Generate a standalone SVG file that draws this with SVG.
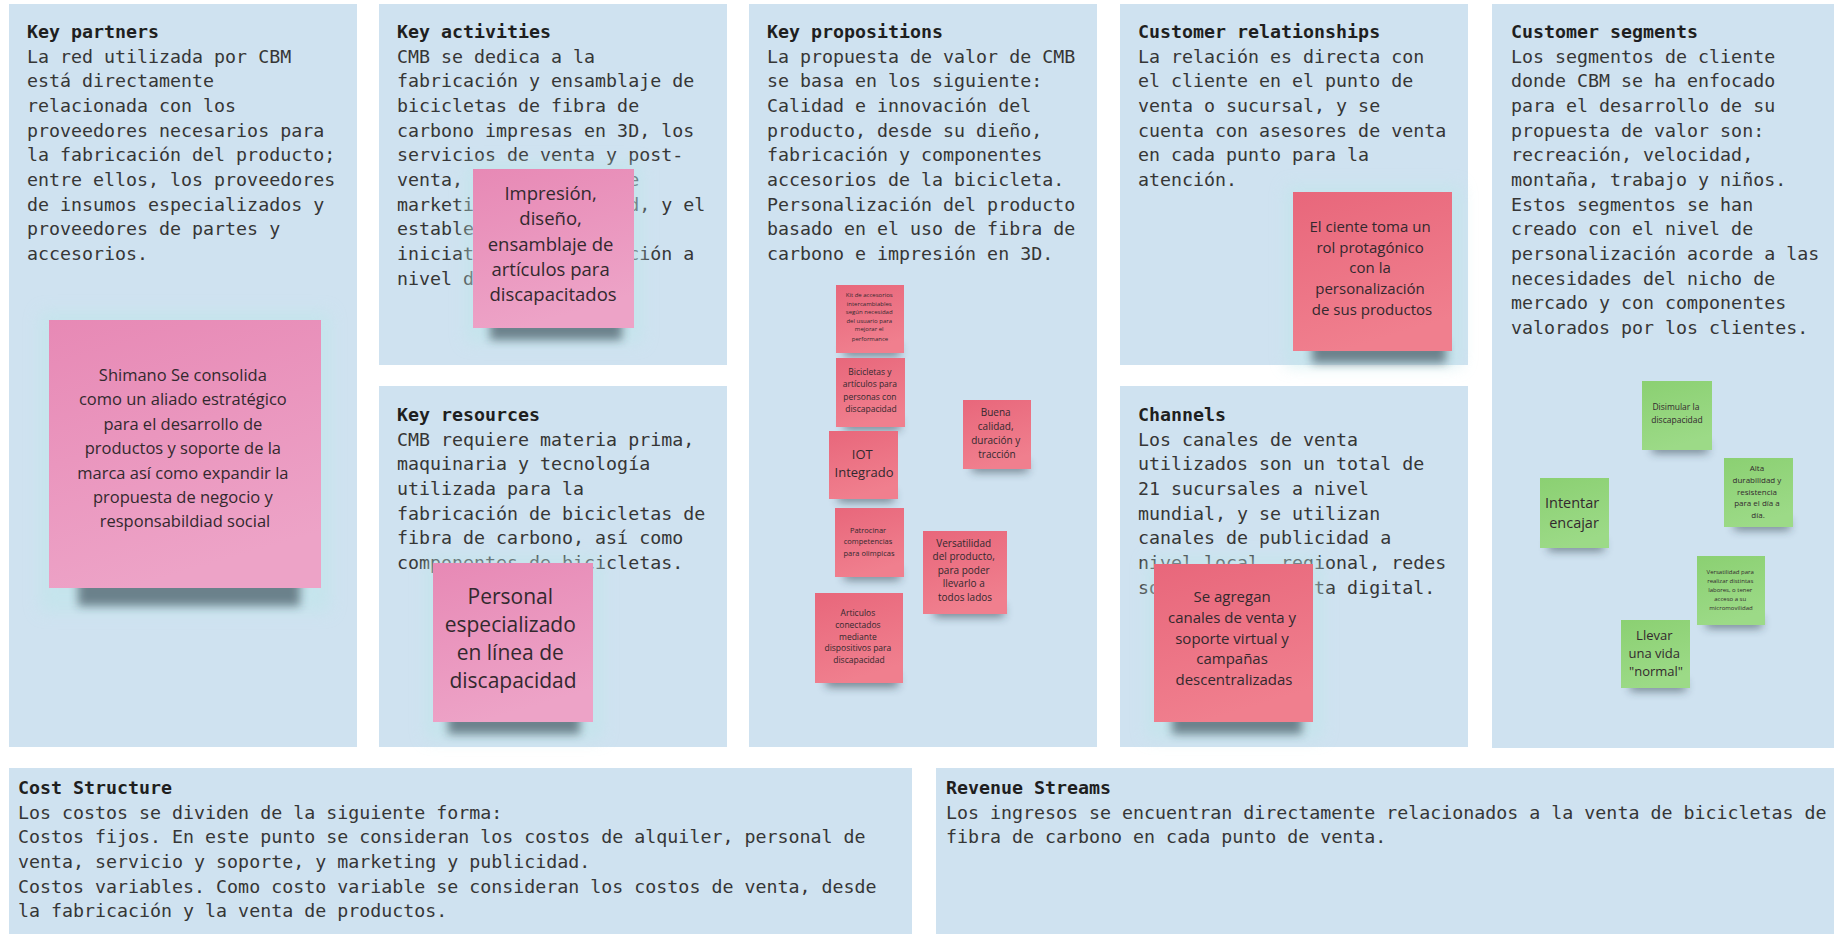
<svg xmlns="http://www.w3.org/2000/svg" width="1834" height="934" viewBox="0 0 1834 934">
  <style>
    .panel { fill: #cfe2f0; }
    .title { font-family: "DejaVu Sans Mono", "Liberation Mono", monospace; font-size: 18.3px; font-weight: bold; fill: #1f1f1f; }
    .body { font-family: "DejaVu Sans Mono", "Liberation Mono", monospace; font-size: 18.3px; fill: #363636; }
    .note { font-family: "Open Sans", "Noto Sans", sans-serif; fill: #33292e; text-anchor: middle; }
    .pink { fill: url(#gPink); }
    .red { fill: url(#gRed); }
    .green { fill: url(#gGreen); }
    .shadow { fill: #22313e; opacity: 0.55; filter: url(#fShadow); }
    .halo { fill: #bfe6ea; opacity: 0.6; filter: url(#fHalo); }
  </style>
  <defs>
    <linearGradient id="gPink" x1="0" y1="0" x2="0.3" y2="1">
      <stop offset="0" stop-color="#e789b5"/>
      <stop offset="1" stop-color="#eda3c7"/>
    </linearGradient>
    <linearGradient id="gRed" x1="0" y1="0" x2="0.3" y2="1">
      <stop offset="0" stop-color="#e8677b"/>
      <stop offset="1" stop-color="#f07f8e"/>
    </linearGradient>
    <linearGradient id="gGreen" x1="0" y1="0" x2="0.3" y2="1">
      <stop offset="0" stop-color="#8bd072"/>
      <stop offset="1" stop-color="#9cda87"/>
    </linearGradient>
    <filter id="fShadow" x="-30%" y="-100%" width="160%" height="300%">
      <feGaussianBlur stdDeviation="5"/>
    </filter>
    <filter id="fHalo" x="-30%" y="-30%" width="160%" height="160%">
      <feGaussianBlur stdDeviation="8"/>
    </filter>
  </defs>

  <rect width="1834" height="934" fill="#ffffff"/>

  <!-- canvas blocks -->
  <g id="key-partners">
    <rect class="panel" x="9" y="4" width="348" height="743"/>
    <text class="title" x="27" y="38">Key partners</text>
    <text class="body">
      <tspan x="27" y="62.7">La red utilizada por CBM</tspan>
      <tspan x="27" y="87.3">está directamente</tspan>
      <tspan x="27" y="112">relacionada con los</tspan>
      <tspan x="27" y="136.7">proveedores necesarios para</tspan>
      <tspan x="27" y="161.3">la fabricación del producto;</tspan>
      <tspan x="27" y="186">entre ellos, los proveedores</tspan>
      <tspan x="27" y="210.7">de insumos especializados y</tspan>
      <tspan x="27" y="235.3">proveedores de partes y</tspan>
      <tspan x="27" y="260">accesorios.</tspan>
    </text>
  </g>

  <g id="key-activities">
    <rect class="panel" x="379" y="4" width="348" height="361"/>
    <text class="title" x="397" y="38">Key activities</text>
    <text class="body">
      <tspan x="397" y="62.7">CMB se dedica a la</tspan>
      <tspan x="397" y="87.3">fabricación y ensamblaje de</tspan>
      <tspan x="397" y="112">bicicletas de fibra de</tspan>
      <tspan x="397" y="136.7">carbono impresas en 3D, los</tspan>
      <tspan x="397" y="161.3">servicios de venta y post-</tspan>
      <tspan x="397" y="186">venta, las campañas de</tspan>
      <tspan x="397" y="210.7">marketing y publicidad, y el</tspan>
      <tspan x="397" y="235.3">establecimiento de</tspan>
      <tspan x="397" y="260">iniciativas de innovación a</tspan>
      <tspan x="397" y="284.7">nivel de producción.</tspan>
    </text>
  </g>

  <g id="key-resources">
    <rect class="panel" x="379" y="386" width="348" height="361"/>
    <text class="title" x="397" y="421">Key resources</text>
    <text class="body">
      <tspan x="397" y="445.7">CMB requiere materia prima,</tspan>
      <tspan x="397" y="470.3">maquinaria y tecnología</tspan>
      <tspan x="397" y="495">utilizada para la</tspan>
      <tspan x="397" y="519.7">fabricación de bicicletas de</tspan>
      <tspan x="397" y="544.3">fibra de carbono, así como</tspan>
      <tspan x="397" y="569">componentes de bicicletas.</tspan>
    </text>
  </g>

  <g id="key-propositions">
    <rect class="panel" x="749" y="4" width="348" height="743"/>
    <text class="title" x="767" y="38">Key propositions</text>
    <text class="body">
      <tspan x="767" y="62.7">La propuesta de valor de CMB</tspan>
      <tspan x="767" y="87.3">se basa en los siguiente:</tspan>
      <tspan x="767" y="112">Calidad e innovación del</tspan>
      <tspan x="767" y="136.7">producto, desde su dieño,</tspan>
      <tspan x="767" y="161.3">fabricación y componentes</tspan>
      <tspan x="767" y="186">accesorios de la bicicleta.</tspan>
      <tspan x="767" y="210.7">Personalización del producto</tspan>
      <tspan x="767" y="235.3">basado en el uso de fibra de</tspan>
      <tspan x="767" y="260">carbono e impresión en 3D.</tspan>
    </text>
  </g>

  <g id="customer-relationships">
    <rect class="panel" x="1120" y="4" width="348" height="361"/>
    <text class="title" x="1138" y="38">Customer relationships</text>
    <text class="body">
      <tspan x="1138" y="62.7">La relación es directa con</tspan>
      <tspan x="1138" y="87.3">el cliente en el punto de</tspan>
      <tspan x="1138" y="112">venta o sucursal, y se</tspan>
      <tspan x="1138" y="136.7">cuenta con asesores de venta</tspan>
      <tspan x="1138" y="161.3">en cada punto para la</tspan>
      <tspan x="1138" y="186">atención.</tspan>
    </text>
  </g>

  <g id="channels">
    <rect class="panel" x="1120" y="386" width="348" height="361"/>
    <text class="title" x="1138" y="421">Channels</text>
    <text class="body">
      <tspan x="1138" y="445.7">Los canales de venta</tspan>
      <tspan x="1138" y="470.3">utilizados son un total de</tspan>
      <tspan x="1138" y="495">21 sucursales a nivel</tspan>
      <tspan x="1138" y="519.7">mundial, y se utilizan</tspan>
      <tspan x="1138" y="544.3">canales de publicidad a</tspan>
      <tspan x="1138" y="569">nivel local, regional, redes</tspan>
      <tspan x="1138" y="593.7">sociales, la venta digital.</tspan>
    </text>
  </g>

  <g id="customer-segments">
    <rect class="panel" x="1492" y="4" width="342" height="744"/>
    <text class="title" x="1511" y="38">Customer segments</text>
    <text class="body">
      <tspan x="1511" y="62.7">Los segmentos de cliente</tspan>
      <tspan x="1511" y="87.3">donde CBM se ha enfocado</tspan>
      <tspan x="1511" y="112">para el desarrollo de su</tspan>
      <tspan x="1511" y="136.7">propuesta de valor son:</tspan>
      <tspan x="1511" y="161.3">recreación, velocidad,</tspan>
      <tspan x="1511" y="186">montaña, trabajo y niños.</tspan>
      <tspan x="1511" y="210.7">Estos segmentos se han</tspan>
      <tspan x="1511" y="235.3">creado con el nivel de</tspan>
      <tspan x="1511" y="260">personalización acorde a las</tspan>
      <tspan x="1511" y="284.7">necesidades del nicho de</tspan>
      <tspan x="1511" y="309.3">mercado y con componentes</tspan>
      <tspan x="1511" y="334">valorados por los clientes.</tspan>
    </text>
  </g>

  <g id="cost-structure">
    <rect class="panel" x="9" y="768" width="903" height="166"/>
    <text class="title" x="18" y="794">Cost Structure</text>
    <text class="body">
      <tspan x="18" y="818.7">Los costos se dividen de la siguiente forma:</tspan>
      <tspan x="18" y="843.3">Costos fijos. En este punto se consideran los costos de alquiler, personal de</tspan>
      <tspan x="18" y="868">venta, servicio y soporte, y marketing y publicidad.</tspan>
      <tspan x="18" y="892.7">Costos variables. Como costo variable se consideran los costos de venta, desde</tspan>
      <tspan x="18" y="917.3">la fabricación y la venta de productos.</tspan>
    </text>
  </g>

  <g id="revenue-streams">
    <rect class="panel" x="936" y="768" width="898" height="166"/>
    <text class="title" x="946" y="794">Revenue Streams</text>
    <text class="body">
      <tspan x="946" y="818.7">Los ingresos se encuentran directamente relacionados a la venta de bicicletas de</tspan>
      <tspan x="946" y="843.3">fibra de carbono en cada punto de venta.</tspan>
    </text>
  </g>

  <!-- sticky notes -->
  <g id="note-shimano">
    <rect class="halo" x="40" y="312" width="290" height="300"/>
    <rect class="shadow" x="78" y="576" width="222" height="30"/>
    <rect class="pink" x="49" y="320" width="272" height="268"/>
    <text class="note" font-size="16.5">
      <tspan x="185" y="381">Shimano Se consolida</tspan>
      <tspan x="185" y="405.4">como un aliado estratégico</tspan>
      <tspan x="185" y="429.8">para el desarrollo de</tspan>
      <tspan x="185" y="454.2">productos y soporte de la</tspan>
      <tspan x="185" y="478.6">marca así como expandir la</tspan>
      <tspan x="185" y="503">propuesta de negocio y</tspan>
      <tspan x="185" y="527.4">responsabildiad social</tspan>
    </text>
  </g>

  <g id="note-impresion">
    <rect class="halo" x="466" y="163" width="176" height="180"/>
    <rect class="shadow" x="490" y="318" width="132" height="22"/>
    <rect class="pink" x="473" y="169" width="161" height="159"/>
    <text class="note" font-size="18.5">
      <tspan x="553" y="200">Impresión,</tspan>
      <tspan x="553" y="225.3">diseño,</tspan>
      <tspan x="553" y="250.6">ensamblaje de</tspan>
      <tspan x="553" y="276">artículos para</tspan>
      <tspan x="553" y="301.3">discapacitados</tspan>
    </text>
  </g>

  <g id="note-personal">
    <rect class="halo" x="426" y="557" width="176" height="182"/>
    <rect class="shadow" x="448" y="712" width="132" height="22"/>
    <rect class="pink" x="433" y="563" width="160" height="159"/>
    <text class="note" font-size="21">
      <tspan x="513" y="603.5">Personal</tspan>
      <tspan x="513" y="631.5">especializado</tspan>
      <tspan x="513" y="659.5">en línea de</tspan>
      <tspan x="513" y="687.5">discapacidad</tspan>
    </text>
  </g>

  <g id="note-cliente">
    <rect class="halo" x="1286" y="186" width="175" height="180"/>
    <rect class="shadow" x="1312" y="341" width="134" height="22"/>
    <rect class="red" x="1293" y="192" width="159" height="159"/>
    <text class="note" font-size="15">
      <tspan x="1372" y="232">El ciente toma un</tspan>
      <tspan x="1372" y="252.7">rol protagónico</tspan>
      <tspan x="1372" y="273.4">con la</tspan>
      <tspan x="1372" y="294.1">personalización</tspan>
      <tspan x="1372" y="314.8">de sus productos</tspan>
    </text>
  </g>

  <g id="note-canales">
    <rect class="halo" x="1147" y="558" width="175" height="180"/>
    <rect class="shadow" x="1172" y="712" width="130" height="22"/>
    <rect class="red" x="1154" y="564" width="159" height="158"/>
    <text class="note" font-size="15">
      <tspan x="1234" y="602">Se agregan</tspan>
      <tspan x="1234" y="622.8">canales de venta y</tspan>
      <tspan x="1234" y="643.6">soporte virtual y</tspan>
      <tspan x="1234" y="664.4">campañas</tspan>
      <tspan x="1234" y="685.2">descentralizadas</tspan>
    </text>
  </g>

  <g id="note-kit">
    <rect class="shadow" x="844" y="346" width="56" height="10"/>
    <rect class="red" x="836" y="285" width="68" height="68"/>
    <text class="note" font-size="6">
      <tspan x="870" y="297">Kit de accesorios</tspan>
      <tspan x="870" y="305.5">intercambiables</tspan>
      <tspan x="870" y="314">según necesidad</tspan>
      <tspan x="870" y="322.5">del usuario para</tspan>
      <tspan x="870" y="331">mejorar el</tspan>
      <tspan x="870" y="341">performance</tspan>
    </text>
  </g>

  <g id="note-bicicletas">
    <rect class="shadow" x="844" y="420" width="56" height="10"/>
    <rect class="red" x="836" y="358" width="69" height="69"/>
    <text class="note" font-size="8.5">
      <tspan x="871" y="375">Bicicletas y</tspan>
      <tspan x="871" y="387.3">artículos para</tspan>
      <tspan x="871" y="399.6">personas con</tspan>
      <tspan x="871" y="411.9">discapacidad</tspan>
    </text>
  </g>

  <g id="note-iot">
    <rect class="shadow" x="838" y="492" width="56" height="10"/>
    <rect class="red" x="829" y="431" width="69" height="68"/>
    <text class="note" font-size="13">
      <tspan x="864" y="458.5">IOT</tspan>
      <tspan x="864" y="476.5">Integrado</tspan>
    </text>
  </g>

  <g id="note-buena">
    <rect class="shadow" x="972" y="462" width="56" height="10"/>
    <rect class="red" x="963" y="400" width="68" height="69"/>
    <text class="note" font-size="10">
      <tspan x="997" y="415.5">Buena</tspan>
      <tspan x="997" y="429.5">calidad,</tspan>
      <tspan x="997" y="443.5">duración y</tspan>
      <tspan x="997" y="457.5">tracción</tspan>
    </text>
  </g>

  <g id="note-patrocinar">
    <rect class="shadow" x="844" y="570" width="56" height="10"/>
    <rect class="red" x="835" y="508" width="69" height="69"/>
    <text class="note" font-size="7.5">
      <tspan x="869" y="532.5">Patrocinar</tspan>
      <tspan x="869" y="544">competencias</tspan>
      <tspan x="869" y="555.5">para olimpicas</tspan>
    </text>
  </g>

  <g id="note-versatilidad">
    <rect class="shadow" x="934" y="606" width="70" height="11"/>
    <rect class="red" x="923" y="531" width="84" height="83"/>
    <text class="note" font-size="10">
      <tspan x="965" y="546.5">Versatilidad</tspan>
      <tspan x="965" y="560">del producto,</tspan>
      <tspan x="965" y="573.5">para poder</tspan>
      <tspan x="965" y="587">llevarlo a</tspan>
      <tspan x="965" y="600.5">todos lados</tspan>
    </text>
  </g>

  <g id="note-articulos">
    <rect class="shadow" x="826" y="675" width="72" height="12"/>
    <rect class="red" x="815" y="593" width="88" height="90"/>
    <text class="note" font-size="8.5">
      <tspan x="859" y="616">Articulos</tspan>
      <tspan x="859" y="627.8">conectados</tspan>
      <tspan x="859" y="639.6">mediante</tspan>
      <tspan x="859" y="651.4">dispositivos para</tspan>
      <tspan x="859" y="663.2">discapacidad</tspan>
    </text>
  </g>

  <g id="note-disimular">
    <rect class="shadow" x="1652" y="443" width="56" height="10"/>
    <rect class="green" x="1642" y="381" width="70" height="69"/>
    <text class="note" font-size="8.5">
      <tspan x="1677" y="410">Disimular la</tspan>
      <tspan x="1677" y="423">discapacidad</tspan>
    </text>
  </g>

  <g id="note-alta">
    <rect class="shadow" x="1734" y="520" width="56" height="10"/>
    <rect class="green" x="1724" y="458" width="69" height="69"/>
    <text class="note" font-size="8">
      <tspan x="1758" y="471">Alta</tspan>
      <tspan x="1758" y="482.8">durabilidad y</tspan>
      <tspan x="1758" y="494.6">resistencia</tspan>
      <tspan x="1758" y="506.4">para el día a</tspan>
      <tspan x="1758" y="518.2">día.</tspan>
    </text>
  </g>

  <g id="note-intentar">
    <rect class="shadow" x="1548" y="541" width="56" height="10"/>
    <rect class="green" x="1540" y="478" width="69" height="70"/>
    <text class="note" font-size="14.5">
      <tspan x="1574" y="507.5">Intentar</tspan>
      <tspan x="1574" y="527.5">encajar</tspan>
    </text>
  </g>

  <g id="note-labores">
    <rect class="shadow" x="1706" y="618" width="56" height="10"/>
    <rect class="green" x="1697" y="556" width="68" height="69"/>
    <text class="note" font-size="6">
      <tspan x="1731" y="574">Versatilidad para</tspan>
      <tspan x="1731" y="583">realizar distintas</tspan>
      <tspan x="1731" y="592">labores, o tener</tspan>
      <tspan x="1731" y="601">acceso a su</tspan>
      <tspan x="1731" y="610">micromovilidad</tspan>
    </text>
  </g>

  <g id="note-llevar">
    <rect class="shadow" x="1630" y="681" width="56" height="10"/>
    <rect class="green" x="1621" y="620" width="69" height="68"/>
    <text class="note" font-size="13">
      <tspan x="1656" y="639.5">Llevar</tspan>
      <tspan x="1656" y="657.5">una vida</tspan>
      <tspan x="1656" y="676">"normal"</tspan>
    </text>
  </g>

  <g id="connectors"/>
</svg>
